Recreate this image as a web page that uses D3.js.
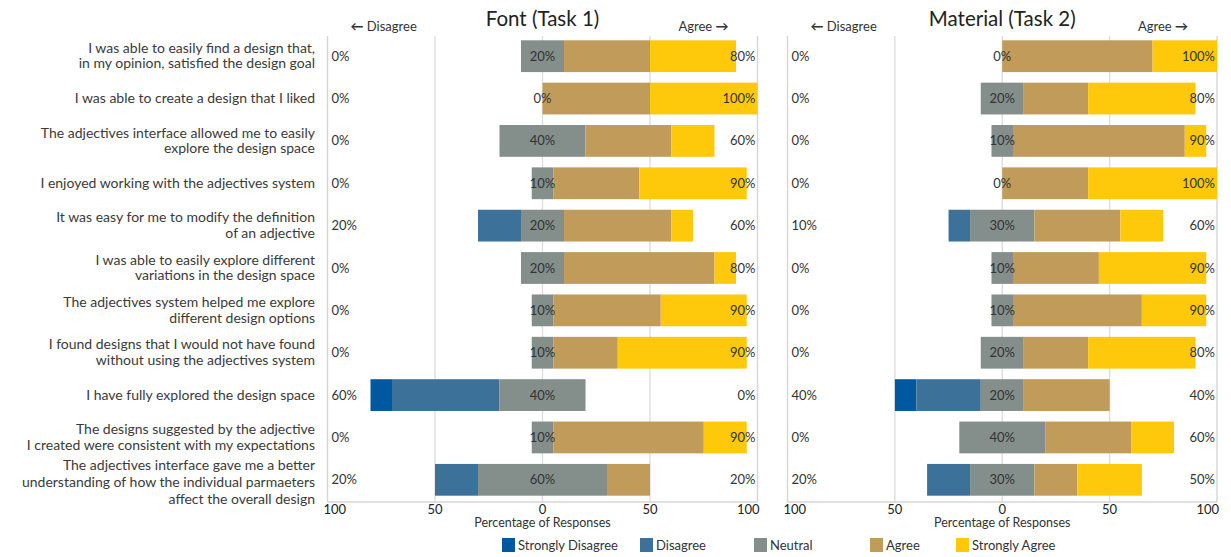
<!DOCTYPE html>
<html>
<head>
<meta charset="utf-8">
<script src="https://cdn.jsdelivr.net/npm/d3@7"></script>
<style>
  body { margin: 0; background: #fff; }
  svg text { font-family: Lato, "Open Sans", sans-serif; fill: #333; }
</style>
</head>
<body>
<svg id="chart" width="1231" height="557"></svg>
<script>
// questions, top to bottom (lines split where the original wraps)
const questions = [
  ["I was able to easily find a design that,", "in my opinion, satisfied the design goal"],
  ["I was able to create a design that I liked"],
  ["The adjectives interface allowed me to easily", "explore the design space"],
  ["I enjoyed working with the adjectives system"],
  ["It was easy for me to modify the definition", "of an adjective"],
  ["I was able to easily explore different", "variations in the design space"],
  ["The adjectives system helped me explore", "different design options"],
  ["I found designs that I would not have found", "without using the adjectives system"],
  ["I have fully explored the design space"],
  ["The designs suggested by the adjective", "I created were consistent with my expectations"],
  ["The adjectives interface gave me a better", "understanding of how the individual parmaeters", "affect the overall design"]
];

const levels = ["Strongly Disagree", "Disagree", "Neutral", "Agree", "Strongly Agree"];
const colors = ["#0058a0", "#3c7299", "#848e8b", "#c09b5a", "#fec90b"];

// Font (Task 1), % of responses per question
const fontSD = [0, 0, 0, 0, 0, 0, 0, 0, 10, 0, 0];
const fontD  = [0, 0, 0, 0, 20, 0, 0, 0, 50, 0, 20];
const fontN  = [20, 0, 40, 10, 20, 20, 10, 10, 40, 10, 60];
const fontA  = [40, 50, 40, 40, 50, 70, 50, 30, 0, 70, 20];
const fontSA = [40, 50, 20, 50, 10, 10, 40, 60, 0, 20, 0];

// Material (Task 2)
const matSD = [0, 0, 0, 0, 0, 0, 0, 0, 10, 0, 0];
const matD  = [0, 0, 0, 0, 10, 0, 0, 0, 30, 0, 20];
const matN  = [0, 20, 10, 0, 30, 10, 10, 20, 20, 40, 30];
const matA  = [70, 30, 80, 40, 40, 40, 60, 30, 40, 40, 20];
const matSA = [30, 50, 10, 60, 20, 50, 30, 50, 0, 20, 30];

const xTicks = [-100, -50, 0, 50, 100];

const svg = d3.select("#chart");

const y = d3.scaleBand()
  .domain(d3.range(questions.length))
  .range([35, 501])
  .paddingInner(0.25)
  .paddingOuter(0.125);

// question labels
const qg = svg.append("g");
questions.forEach((lines, i) => {
  const long = lines.length > 2;
  const cy = y(i) + y.bandwidth() / 2 + (long ? 3 : 0);
  const lh = long ? 17 : 15.5;
  const t = qg.append("text")
    .attr("x", 315)
    .attr("text-anchor", "end")
    .style("font-size", "14px")
    .style("fill", "#3a3a3a");
  lines.forEach((l, j) => {
    t.append("tspan")
      .attr("x", 315)
      .attr("y", cy + (j - (lines.length - 1) / 2) * lh + 4.5)
      .text(l);
  });
});

function buildRows(sd, d, n, a, sa) {
  return sd.map((_, i) => {
    const vals = [sd[i], d[i], n[i], a[i], sa[i]];
    let start = -(sd[i] + d[i] + n[i] / 2);
    const segs = vals.map((v, k) => {
      const s = { k: k, x0: start, x1: start + v };
      start += v;
      return s;
    });
    return { i: i, segs: segs, dis: sd[i] + d[i], neu: n[i], agr: a[i] + sa[i] };
  });
}

function drawPanel(title, rows, x0, x1) {
  const x = d3.scaleLinear().domain([-100, 100]).range([x0, x1]);
  const g = svg.append("g");
  const top = 36, bottom = 502;

  // grid and frame
  g.selectAll("line.grid")
    .data(xTicks)
    .enter().append("line")
    .attr("x1", d => x(d)).attr("x2", d => x(d))
    .attr("y1", top).attr("y2", bottom)
    .style("stroke", d => Math.abs(d) === 100 ? "#d6d6d6" : "#dedede")
    .style("stroke-width", 1.4);
  g.append("line")
    .attr("x1", x(-100)).attr("x2", x(100))
    .attr("y1", bottom).attr("y2", bottom)
    .style("stroke", "#d6d6d6")
    .style("stroke-width", 1.4);

  // bars
  rows.forEach(r => {
    g.selectAll(null)
      .data(r.segs.filter(s => s.x1 > s.x0))
      .enter().append("rect")
      .attr("x", s => x(s.x0))
      .attr("width", s => x(s.x1) - x(s.x0))
      .attr("y", y(r.i))
      .attr("height", y.bandwidth())
      .style("fill", s => colors[s.k]);

    const cy = y(r.i) + y.bandwidth() / 2 + 4.5;
    g.append("text").attr("x", x(-100) + 4).attr("y", cy)
      .style("font-size", "13px").text(r.dis + "%");
    g.append("text").attr("x", x(0)).attr("y", cy)
      .attr("text-anchor", "middle")
      .style("font-size", "13px").text(r.neu + "%");
    g.append("text").attr("x", x(100) - 2).attr("y", cy)
      .attr("text-anchor", "end")
      .style("font-size", "13px").text(r.agr + "%");
  });

  // x axis labels
  g.selectAll("text.tick")
    .data(xTicks)
    .enter().append("text")
    .attr("x", (d, i) => i === 0 ? x(d) - 4 : i === xTicks.length - 1 ? x(d) + 2 : x(d))
    .attr("y", 514)
    .attr("text-anchor", (d, i) => i === 0 ? "start" : i === xTicks.length - 1 ? "end" : "middle")
    .style("font-size", "13px")
    .style("fill", "#222")
    .text(d => Math.abs(d));

  g.append("text")
    .attr("x", x(0)).attr("y", 527)
    .attr("text-anchor", "middle")
    .style("font-size", "12.5px")
    .text("Percentage of Responses");

  // titles
  g.append("text")
    .attr("x", x(0)).attr("y", 26)
    .attr("text-anchor", "middle")
    .style("font-size", "20.5px")
    .style("fill", "#222")
    .text(title);
  g.append("text")
    .attr("x", x(-100) + 23).attr("y", 31)
    .style("font-size", "13px")
    .html('<tspan style="font-weight:bold">\u2190</tspan> Disagree');
  g.append("text")
    .attr("x", x(100) - 29).attr("y", 31)
    .attr("text-anchor", "end")
    .style("font-size", "13px")
    .html('Agree <tspan style="font-weight:bold">\u2192</tspan>');
}

drawPanel("Font (Task 1)", buildRows(fontSD, fontD, fontN, fontA, fontSA), 327.5, 757.5);
drawPanel("Material (Task 2)", buildRows(matSD, matD, matN, matA, matSA), 787.5, 1217);

// legend
const legendX = [502, 640, 754, 870, 956];
const lg = svg.append("g");
levels.forEach((l, k) => {
  lg.append("rect")
    .attr("x", legendX[k]).attr("y", 538)
    .attr("width", 13).attr("height", 14)
    .style("fill", colors[k]);
  lg.append("text")
    .attr("x", legendX[k] + 16).attr("y", 550)
    .style("font-size", "13px")
    .text(l);
});
</script>
</body>
</html>
